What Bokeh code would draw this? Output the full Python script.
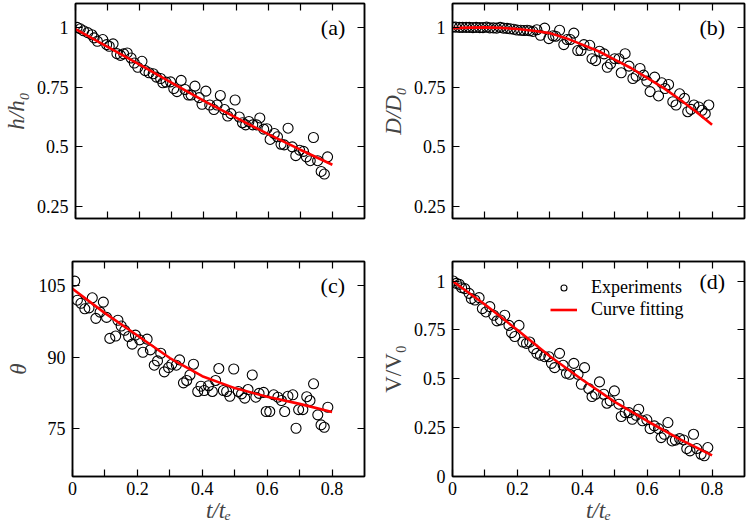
from bokeh.plotting import figure
from bokeh.layouts import column, row
from bokeh.models import (FixedTicker, LinearAxis, Label, Legend, LegendItem,
                          CustomJSTickFormatter, Range1d)
from bokeh.embed import file_html
from bokeh.resources import INLINE

# ---------------- data ----------------
a_t = [0.005, 0.015, 0.025, 0.038, 0.051, 0.058, 0.068, 0.085, 0.097, 0.105,
       0.117, 0.129, 0.14, 0.15, 0.161, 0.173, 0.183, 0.194, 0.207, 0.217,
       0.229, 0.242, 0.252, 0.265, 0.272, 0.282, 0.296, 0.306, 0.316, 0.329,
       0.341, 0.352, 0.36, 0.372, 0.385, 0.394, 0.406, 0.418, 0.431, 0.441,
       0.451, 0.464, 0.474, 0.484, 0.497, 0.51, 0.52, 0.53, 0.54, 0.552,
       0.564, 0.574, 0.586, 0.596, 0.606, 0.619, 0.629, 0.64, 0.65, 0.662,
       0.675, 0.686, 0.698, 0.71, 0.719, 0.731, 0.741, 0.754, 0.765, 0.775, 0.785]
a_y = [1.0, 0.994, 0.986, 0.978, 0.969, 0.956, 0.942, 0.949, 0.928, 0.921,
       0.931, 0.89, 0.883, 0.889, 0.893, 0.872, 0.851, 0.833, 0.858, 0.819,
       0.81, 0.806, 0.792, 0.786, 0.768, 0.771, 0.772, 0.744, 0.731, 0.778,
       0.74, 0.717, 0.717, 0.754, 0.706, 0.678, 0.733, 0.675, 0.656, 0.675,
       0.715, 0.656, 0.629, 0.639, 0.696, 0.625, 0.601, 0.592, 0.606, 0.592,
       0.592, 0.621, 0.574, 0.576, 0.531, 0.556, 0.542, 0.511, 0.508, 0.578,
       0.5, 0.463, 0.486, 0.481, 0.458, 0.442, 0.539, 0.442, 0.397, 0.386, 0.458]
a_fit_t = [0.0, 0.1, 0.2, 0.3, 0.4, 0.5, 0.6, 0.7, 0.8]
a_fit_y = [0.993, 0.918, 0.844, 0.768, 0.692, 0.622, 0.553, 0.488, 0.425]

b_t = [0.0, 0.01, 0.021, 0.031, 0.042, 0.052, 0.063, 0.073, 0.084, 0.094,
       0.105, 0.115, 0.126, 0.136, 0.147, 0.157, 0.168, 0.178, 0.189, 0.199,
       0.21, 0.22, 0.23, 0.238, 0.248, 0.26, 0.271, 0.284, 0.297, 0.31,
       0.318, 0.33, 0.343, 0.353, 0.363, 0.374, 0.386, 0.396, 0.405, 0.423,
       0.43, 0.441, 0.453, 0.467, 0.477, 0.487, 0.5, 0.513, 0.52, 0.532,
       0.544, 0.556, 0.566, 0.578, 0.589, 0.599, 0.609, 0.623, 0.635, 0.645,
       0.655, 0.666, 0.679, 0.689, 0.7, 0.715, 0.725, 0.735, 0.744, 0.759,
       0.769, 0.779, 0.79]
b_y = [1.001, 1.001, 1.0, 1.0, 1.0, 1.0, 0.999, 1.0, 0.999, 0.999,
       1.001, 0.998, 0.998, 0.997, 1.0, 0.997, 0.996, 0.994, 0.992, 0.989,
       0.988, 0.987, 0.988, 0.986, 0.983, 0.99, 0.967, 0.997, 0.953, 0.965,
       0.963, 0.988, 0.928, 0.949, 0.949, 0.976, 0.903, 0.903, 0.928, 0.925,
       0.869, 0.861, 0.9, 0.889, 0.833, 0.847, 0.869, 0.869, 0.81, 0.89,
       0.838, 0.786, 0.796, 0.828, 0.8, 0.775, 0.731, 0.792, 0.713, 0.768,
       0.744, 0.761, 0.689, 0.675, 0.722, 0.703, 0.647, 0.657, 0.675, 0.667,
       0.653, 0.639, 0.675]
b_fit_t = [0.0, 0.05, 0.1, 0.15, 0.2, 0.25, 0.3, 0.35, 0.4, 0.45, 0.5,
           0.55, 0.6, 0.65, 0.7, 0.75, 0.8]
b_fit_y = [0.997, 0.999, 1.0, 0.998, 0.993, 0.986, 0.976, 0.955, 0.928, 0.9,
           0.865, 0.83, 0.789, 0.747, 0.699, 0.648, 0.592]

c_t = [0.007, 0.015, 0.026, 0.038, 0.051, 0.061, 0.072, 0.085, 0.095, 0.105,
       0.115, 0.133, 0.14, 0.15, 0.161, 0.173, 0.184, 0.194, 0.207, 0.217,
       0.23, 0.24, 0.252, 0.262, 0.272, 0.283, 0.296, 0.306, 0.32, 0.33,
       0.342, 0.352, 0.362, 0.373, 0.386, 0.396, 0.406, 0.419, 0.431, 0.441,
       0.451, 0.465, 0.475, 0.485, 0.497, 0.511, 0.521, 0.531, 0.541, 0.554,
       0.565, 0.575, 0.589, 0.597, 0.608, 0.62, 0.633, 0.644, 0.654, 0.664,
       0.679, 0.689, 0.697, 0.71, 0.722, 0.732, 0.743, 0.756, 0.766, 0.776, 0.787]
c_y = [105.9, 101.9, 101.25, 100.1, 100.3, 102.4, 98.1, 99.4, 101.5, 98.3,
       93.9, 94.4, 97.7, 96.5, 95.6, 94.3, 92.7, 94.6, 93.6, 91.0,
       93.75, 91.5, 88.3, 89.2, 90.8, 86.9, 87.8, 88.5, 88.3, 89.4,
       84.6, 85.1, 86.25, 88.5, 82.8, 83.9, 83.0, 84.0, 82.8, 85.1,
       87.6, 83.0, 82.8, 81.8, 87.5, 82.8, 82.3, 81.4, 83.2, 86.25,
       81.6, 82.4, 82.6, 78.6, 78.6, 82.1, 81.6, 80.9, 78.6, 81.8,
       82.1, 75.1, 79.0, 79.0, 81.7, 80.9, 84.4, 77.9, 75.8, 75.3, 79.5]
c_fit_t = [0.0, 0.1, 0.2, 0.3, 0.4, 0.5, 0.6, 0.7, 0.8]
c_fit_y = [104.3, 99.2, 94.5, 89.8, 86.0, 83.5, 81.7, 80.2, 78.5]

d_t = [0.002, 0.012, 0.021, 0.028, 0.038, 0.051, 0.058, 0.069, 0.082, 0.092,
       0.103, 0.115, 0.127, 0.137, 0.148, 0.161, 0.174, 0.182, 0.192, 0.205,
       0.217, 0.228, 0.238, 0.25, 0.26, 0.271, 0.284, 0.297, 0.305, 0.315,
       0.33, 0.341, 0.351, 0.361, 0.374, 0.387, 0.397, 0.407, 0.42, 0.43,
       0.441, 0.453, 0.466, 0.476, 0.486, 0.499, 0.513, 0.52, 0.532, 0.544,
       0.554, 0.566, 0.574, 0.586, 0.599, 0.609, 0.622, 0.635, 0.643, 0.653,
       0.664, 0.677, 0.687, 0.7, 0.712, 0.722, 0.732, 0.743, 0.753, 0.766,
       0.776, 0.787]
d_y = [1.0, 0.988, 0.983, 0.966, 0.961, 0.937, 0.91, 0.903, 0.915, 0.859,
       0.842, 0.869, 0.825, 0.796, 0.801, 0.825, 0.773, 0.736, 0.716, 0.773,
       0.688, 0.681, 0.688, 0.654, 0.63, 0.62, 0.613, 0.613, 0.579, 0.557,
       0.63, 0.569, 0.528, 0.523, 0.579, 0.523, 0.472, 0.557, 0.45, 0.409,
       0.421, 0.484, 0.421, 0.375, 0.387, 0.438, 0.37, 0.307, 0.327, 0.327,
       0.293, 0.313, 0.344, 0.285, 0.29, 0.245, 0.259, 0.245, 0.199, 0.216,
       0.276, 0.182, 0.186, 0.194, 0.187, 0.143, 0.131, 0.216, 0.143, 0.114,
       0.106, 0.148]
d_fit_t = [0.0, 0.1, 0.2, 0.3, 0.4, 0.5, 0.6, 0.7, 0.8]
d_fit_y = [1.0, 0.88, 0.75, 0.615, 0.495, 0.382, 0.284, 0.191, 0.108]

x_major = [0, 0.2, 0.4, 0.6, 0.8]
x_minor = [0.1, 0.3, 0.5, 0.7]
hd_ticks = [0.25, 0.5, 0.75, 1]
theta_ticks = [75, 90, 105]
v_ticks = [0, 0.25, 0.5, 0.75, 1]
x_label = "t/tₑ"
legend_labels = ["Experiments", "Curve fitting"]

FONT = "Liberation Serif"
fmt_code = "return String(tick);"
blank_code = "return '';"


def style_axis(ax, ticker, labels):
    ax.ticker = ticker
    ax.axis_line_color = "black"
    ax.axis_line_width = 1.5
    ax.major_tick_line_color = "black"
    ax.minor_tick_line_color = "black"
    ax.major_tick_line_width = 1.2
    ax.minor_tick_line_width = 1.2
    ax.major_tick_in = 7
    ax.major_tick_out = 0
    ax.minor_tick_in = 7
    ax.minor_tick_out = 0
    if labels:
        ax.formatter = CustomJSTickFormatter(code=fmt_code)
        ax.major_label_text_font = FONT
        ax.major_label_text_font_size = "18px"
        ax.major_label_text_color = "black"
        ax.major_label_standoff = 5
    else:
        ax.formatter = CustomJSTickFormatter(code=blank_code)
        ax.major_label_text_font_size = "0px"
        ax.major_label_standoff = 0


def make_panel(w, h, lb, rb, tb, bb, yr, yticks, ylabel, ylabel_style,
               xlabels, t, y, ft, fy, tag, tag_y):
    p = figure(width=w, height=h, x_range=Range1d(0, 0.9), y_range=Range1d(*yr),
               output_backend="svg", toolbar_location=None,
               min_border_left=lb, min_border_right=rb,
               min_border_top=tb, min_border_bottom=bb)
    p.xgrid.visible = False
    p.ygrid.visible = False
    p.outline_line_color = "black"
    p.outline_line_width = 1.5
    p.background_fill_color = "white"
    p.border_fill_color = "white"

    xt = FixedTicker(ticks=x_major, minor_ticks=x_minor)
    yt = FixedTicker(ticks=yticks, minor_ticks=[])

    xb = p.xaxis[0]
    style_axis(xb, xt, xlabels)
    if xlabels:
        xb.axis_label = x_label
        xb.axis_label_text_font = FONT
        xb.axis_label_text_font_size = "23px"
        xb.axis_label_text_font_style = "italic"
        xb.axis_label_standoff = 0
    yl = p.yaxis[0]
    style_axis(yl, yt, True)
    yl.major_label_standoff = 7
    yl.axis_label = ylabel
    yl.axis_label_text_font = FONT
    yl.axis_label_text_font_size = "23px"
    yl.axis_label_text_font_style = ylabel_style
    yl.axis_label_standoff = 5

    xa = LinearAxis()
    style_axis(xa, FixedTicker(ticks=x_major, minor_ticks=x_minor), False)
    p.add_layout(xa, "above")
    yr_ax = LinearAxis()
    style_axis(yr_ax, FixedTicker(ticks=yticks, minor_ticks=[]), False)
    p.add_layout(yr_ax, "right")

    sc = p.scatter(t, y, marker="circle", size=10, fill_color=None,
                   line_color="black", line_width=1.1)
    ln = p.line(ft, fy, line_color="red", line_width=2.6)

    p.add_layout(Label(x=0.84, y=tag_y, text=tag, text_align="right",
                       text_baseline="middle", text_font=FONT,
                       text_font_size="22px", text_color="black"))
    return p, sc, ln


pa, _, _ = make_panel(373, 238, 72, 9, 3, 20, (0.2, 1.1), hd_ticks, "h/h₀",
                      "italic", False, a_t, a_y, a_fit_t, a_fit_y, "(a)", 1.0)
pb, _, _ = make_panel(374, 238, 79, 3, 3, 20, (0.2, 1.1), hd_ticks, "D/D₀",
                      "italic", False, b_t, b_y, b_fit_t, b_fit_y, "(b)", 1.0)
pc, _, _ = make_panel(373, 292, 72, 9, 23, 54, (65, 110), theta_ticks, "θ",
                      "italic", True, c_t, c_y, c_fit_t, c_fit_y, "(c)", 105)
pd, sc_d, ln_d = make_panel(374, 292, 79, 3, 23, 54, (0, 1.1), v_ticks, "V/V₀",
                            "normal", True, d_t, d_y, d_fit_t, d_fit_y, "(d)", 1.0)

legend = Legend(items=[LegendItem(label=legend_labels[0], renderers=[sc_d]),
                       LegendItem(label=legend_labels[1], renderers=[ln_d])],
                location=(98, 156), margin=0, padding=0, spacing=1,
                label_height=15, glyph_height=15, glyph_width=27,
                label_standoff=14, border_line_color=None,
                background_fill_alpha=0, label_text_font=FONT,
                label_text_font_size="18px", label_text_color="black")
pd.add_layout(legend)

layout = column(row(pa, pb), row(pc, pd))

with open("out.html", "w") as f:
    f.write(file_html(layout, INLINE))
